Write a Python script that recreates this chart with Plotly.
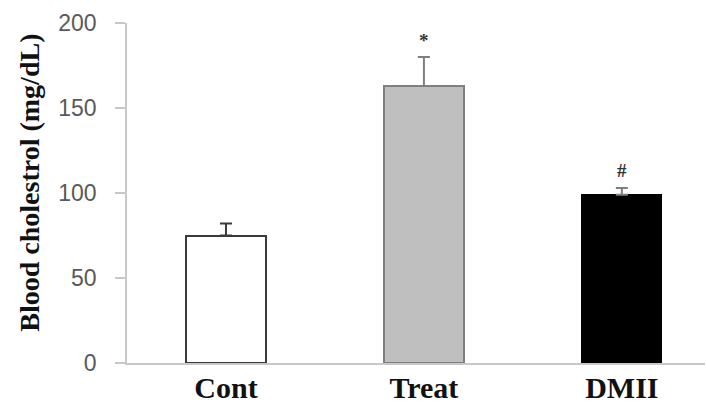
import plotly.graph_objects as go

categories = ["Cont", "Treat", "DMII"]
means = [75, 163, 99]
errors = [7, 17, 4]
marks = ["", "*", "#"]
mark_y = [None, 190, 113]
y_ticks = [0, 50, 100, 150, 200]
y_title = "Blood cholestrol (mg/dL)"

fill_colors = ["#ffffff", "#bfbfbf", "#000000"]
line_colors = ["#3a3a3a", "#7f7f7f", "#000000"]
err_colors = ["#3a3a3a", "#7f7f7f", "#7f7f7f"]

fig = go.Figure()
for i, c in enumerate(categories):
    fig.add_trace(go.Bar(
        x=[i], y=[means[i]], width=0.4,
        marker=dict(color=fill_colors[i], line=dict(color=line_colors[i], width=2)),
        error_y=dict(type="data", array=[errors[i]], arrayminus=[0], symmetric=False,
                     color=err_colors[i], thickness=2, width=6),
        showlegend=False,
    ))

for i, m in enumerate(marks):
    if m:
        fig.add_annotation(x=i, y=mark_y[i], text="<b>" + m + "</b>", showarrow=False,
                           font=dict(family="Liberation Serif", size=19, color="#333333"))

fig.add_annotation(xref="paper", yref="paper", x=-0.168, y=0.53,
                   xanchor="center", yanchor="middle", textangle=-90,
                   text="<b>" + y_title + "</b>", showarrow=False,
                   font=dict(family="Liberation Serif", size=28, color="#111111"))

fig.update_layout(
    width=706, height=406,
    margin=dict(l=127, r=1, t=23, b=43),
    plot_bgcolor="white", paper_bgcolor="white",
    bargap=0,
)
fig.update_xaxes(
    range=[-0.5, 2.42], automargin=False,
    tickmode="array", tickvals=list(range(len(categories))),
    ticktext=["<b>" + c + "</b>" for c in categories],
    showline=True, linecolor="#c8c8c8", linewidth=1.5,
    ticks="", showgrid=False, zeroline=False,
    tickfont=dict(family="Liberation Serif", size=30, color="#111111"),
    ticklabelstandoff=-3,
)
fig.update_yaxes(
    range=[0, 200], automargin=False,
    tickmode="array", tickvals=y_ticks,
    showline=True, linecolor="#c8c8c8", linewidth=1.5,
    ticks="outside", ticklen=10, tickcolor="#c8c8c8", tickwidth=1.5,
    showgrid=False, zeroline=False,
    tickfont=dict(family="Liberation Sans", size=23, color="#595959"),
    ticklabelstandoff=14,
)

fig.write_html("out.html", config={"displayModeBar": False},
               post_script="document.body.style.margin='0';")
